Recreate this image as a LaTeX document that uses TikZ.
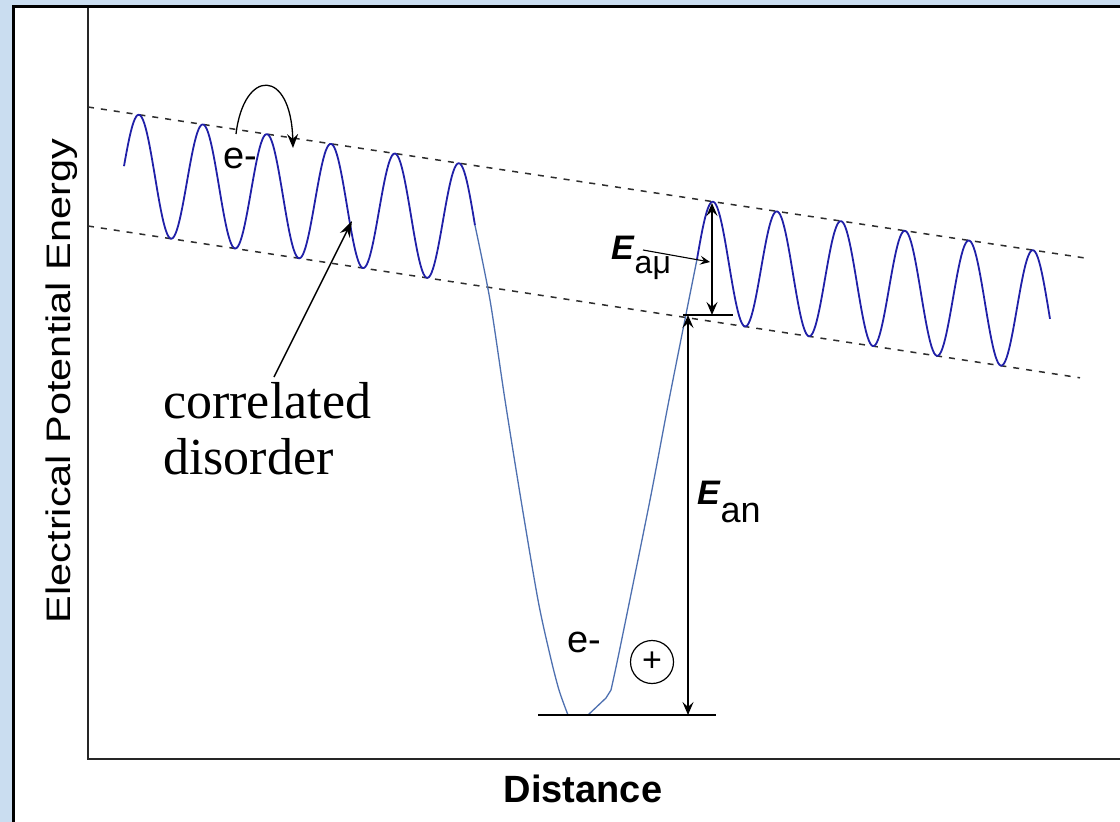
\documentclass[tikz,border=0pt]{standalone}
\usepackage{fontspec}
\setmainfont{Liberation Sans}
\newfontfamily\seriffam{Liberation Serif}
\usetikzlibrary{arrows.meta}
\definecolor{bgblue}{RGB}{202,221,240}
\definecolor{wavecol}{RGB}{32,32,168}
\definecolor{wellcol}{RGB}{78,112,176}
\definecolor{dashcol}{RGB}{45,45,45}
\begin{document}
\begin{tikzpicture}[x=1pt,y=-1pt,
  axis/.style={line width=2pt, black!85},
  guide/.style={line width=1.5pt, dashcol, dash pattern=on 6pt off 7pt},
  wave/.style={line width=1.8pt, wavecol, line join=round},
  well/.style={line width=1.3pt, wellcol, line join=round},
  dimarrow/.style={line width=1.4pt, >={Stealth[length=13pt,width=11pt,inset=5pt]}, <->},
  ptr/.style={line width=1.5pt, -{Stealth[length=16pt,width=11pt]}},
  thinptr/.style={line width=1.1pt, -{Stealth[length=10pt,width=9pt,inset=4pt]}},
  hop/.style={line width=1.3pt, -{Stealth[length=14pt,width=11pt,inset=5pt]}},
  lbl/.style={inner sep=0pt, font=\fontsize{38}{38}\selectfont},
  elbl/.style={inner sep=0pt, font=\fontsize{34}{34}\selectfont},
]
\useasboundingbox (0,0) rectangle (1120,822);
% background and panel
\fill[bgblue] (0,0) rectangle (1120,822);
\fill[white] (13.5,6.5) rectangle (1130,830);
\draw[line width=3pt, black] (13.5,830) -- (13.5,6.5) -- (1130,6.5);
% axes
\draw[axis] (88,8) -- (88,759) -- (1125,759);
% guide lines
\draw[guide] (88,107) -- (1085,258);
\draw[guide] (88,226) -- (1080,377.8);
% left wave
\draw[wave] plot[domain=124:475, samples=260]
  (\x, {107+0.1515*(\x-88) + (119+0.0015*(\x-88))/2*(1-cos(5.625*(\x-139)))});
% right wave
\draw[wave] plot[domain=697:1050, samples=260]
  (\x, {107+0.1515*(\x-88) + (119+0.0015*(\x-88))/2*(1-cos(5.625*(\x-713)))});
% well
\draw[well] plot[smooth, tension=0.5] coordinates {(475,225.4) (490,300) (505,400) (521,500) (538,600) (550,655) (559,690) (568,715)};
\draw[well] (588,715) -- (606,698) -- (611,690)
  plot[smooth, tension=0.5] coordinates {(611,690) (620,648) (650,500) (669,400) (697,259.2)};
% levels
\draw[line width=1.8pt] (538,715) -- (716,715);
\draw[line width=1.8pt] (683,315) -- (733,315);
% dimension arrows
\coordinate (aTop) at (712,203);
\coordinate (aBot) at (712,315);
\coordinate (nTop) at (688,315);
\coordinate (nBot) at (688,715);
\draw[dimarrow] (aTop) -- (aBot);
\draw[dimarrow] (nTop) -- (nBot);
% labels E
\node[elbl, anchor=base west] (Eamu) at (611,259) {\textbf{\textit{E}}\raisebox{-14pt}{\fontsize{32}{32}\selectfont aμ}};
\node[elbl, anchor=base west] (Ean) at (697,504) {\textbf{\textit{E}}\raisebox{-18pt}{\fontsize{36}{36}\selectfont an}};
\coordinate (eaS) at (643,250);
\coordinate (eaE) at (710,262);
\draw[thinptr] (eaS) -- (eaE);
% electrons and hole
\node[lbl, anchor=base west] (etop) at (223,168) {e-};
\node[lbl, anchor=base west] (ewell) at (567,652) {e-};
\node[draw, circle, line width=1.2pt, minimum size=43pt, inner sep=0pt, font=\fontsize{34}{34}\selectfont] (hole) at (652,662) {+};
% hop arrow
\coordinate (hopS) at (236,134);
\coordinate (hopE) at (293,148);
\draw[hop] (hopS) .. controls (244,68) and (291,68) .. (hopE);
% correlated disorder
\node[inner sep=0pt, anchor=base west, font=\seriffam\fontsize{52}{56}\selectfont] (corr) at (163,418) {correlated};
\node[inner sep=0pt, anchor=base west, font=\seriffam\fontsize{52}{56}\selectfont] (dis) at (163,474) {disorder};
\coordinate (corrS) at (274,377);
\coordinate (corrE) at (352,221);
\draw[ptr] (corrS) -- (corrE);
% axis labels
\node[inner sep=0pt, anchor=base, rotate=90, font=\fontsize{34}{34}\selectfont] (ylab) at (70,381) {\scalebox{1.22}[1]{Electrical Potential Energy}};
\node[inner sep=0pt, anchor=base, font=\bfseries\fontsize{38}{38}\selectfont] (xlab) at (583,802) {Distance};
\end{tikzpicture}
\end{document}
